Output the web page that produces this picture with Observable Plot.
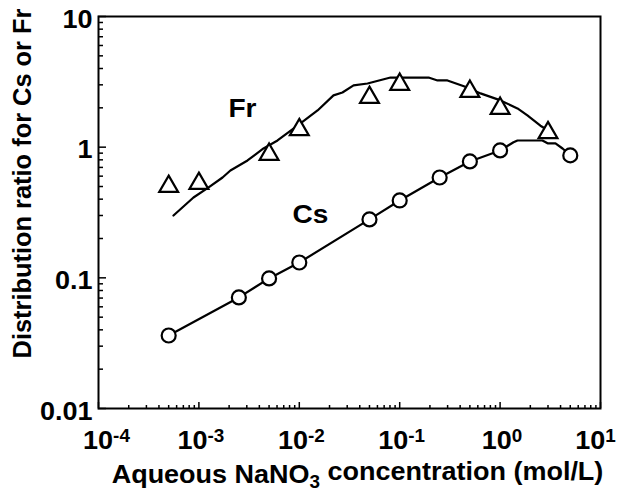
<!DOCTYPE html>
<html><head><meta charset="utf-8">
<script src="https://cdn.jsdelivr.net/npm/d3@7"></script>
<script src="https://cdn.jsdelivr.net/npm/@observablehq/plot@0.6"></script>
<style>body{margin:0;background:#fff}</style>
</head><body><div id="chart"></div>
<script>
// Cs measured points (circles)
const csConc = [5e-4, 2.5e-3, 5e-3, 0.01, 0.05, 0.1, 0.25, 0.5, 1, 5];
const csRatio = [0.0362, 0.0708, 0.099, 0.131, 0.28, 0.391, 0.586, 0.778, 0.944, 0.865];
// Fr measured points (triangles)
const frConc = [5e-4, 1e-3, 5e-3, 0.01, 0.05, 0.1, 0.5, 1, 3];
const frRatio = [0.50, 0.527, 0.88, 1.36, 2.40, 3.02, 2.67, 1.98, 1.29];
// Cs curve
const csLineConc = [5e-4, 2.5e-3, 5e-3, 0.01, 0.05, 0.1, 0.25, 0.5, 1, 1.36, 1.49, 2.64, 2.97, 3.56, 4.19, 5];
const csLineRatio = [0.0362, 0.0708, 0.099, 0.131, 0.28, 0.391, 0.586, 0.778, 0.944, 1.09, 1.125, 1.125, 1.07, 1.07, 0.977, 0.865];
// Fr curve
const frLineConc = [5.58e-4, 8.83e-4, 1.25e-3, 1.72e-3, 2.06e-3, 3.05e-3, 4.40e-3, 6.07e-3, 9.59e-3, 0.0152, 0.0219, 0.0269, 0.0347, 0.0478, 0.081, 0.194, 0.238, 0.299, 0.473, 0.638, 1.01, 1.49, 1.87, 2.52, 3.03];
const frLineRatio = [0.300, 0.412, 0.492, 0.586, 0.663, 0.791, 0.977, 1.125, 1.46, 1.91, 2.49, 2.62, 2.97, 3.07, 3.41, 3.41, 3.24, 3.24, 2.86, 2.58, 2.28, 1.98, 1.75, 1.46, 1.34];
// Series labels
const seriesNames = ["Fr", "Cs"];
const seriesLabelConc = [1.97e-3, 8.55e-3];
const seriesLabelRatio = [1.69, 0.265];
// Ticks
const xMajor = [1e-4, 1e-3, 1e-2, 1e-1, 1, 10];
const xExponents = ["-4", "-3", "-2", "-1", "0", "1"];
const yMajor = [0.01, 0.1, 1, 10];
const yTickLabels = ["0.01", "0.1", "1", "10"];
const minorMultipliers = [2, 3, 4, 5, 6, 7, 8, 9];
const xDecades = [1e-4, 1e-3, 1e-2, 1e-1, 1];
const yDecades = [0.01, 0.1, 1];
const xTitle = "Aqueous NaNO3 concentration (mol/L)";
const yTitle = "Distribution ratio for Cs or Fr";

const xMinor = xDecades.flatMap(d => minorMultipliers.map(m => m * d));
const yMinor = yDecades.flatMap(d => minorMultipliers.map(m => m * d));
const cs = csConc.map((c, i) => ({c, r: csRatio[i]}));
const fr = frConc.map((c, i) => ({c, r: frRatio[i]}));
const csLine = csLineConc.map((c, i) => ({c, r: csLineRatio[i]}));
const frLine = frLineConc.map((c, i) => ({c, r: frLineRatio[i]}));
const seriesLabels = seriesNames.map((n, i) => ({n, c: seriesLabelConc[i], r: seriesLabelRatio[i]}));

const W = 619, H = 491, mT = 16, mR = 19, mB = 83, mL = 98;
const fw = W - mL - mR, fh = H - mT - mB;
const stretch = 1.08;

const svg = Plot.plot({
  width: W, height: H,
  marginTop: mT, marginRight: mR, marginBottom: mB, marginLeft: mL,
  x: {type: "log", domain: [1e-4, 10]},
  y: {type: "log", domain: [0.01, 10]},
  style: {fontFamily: "'Liberation Sans', Arial, Helvetica, sans-serif", fontSize: "25px", fontWeight: "bold", color: "black", background: "white"},
  marks: [
    Plot.tickX(xMinor, {x: d => d, insetTop: fh - 3, strokeWidth: 1.5}),
    Plot.tickX(xMajor, {x: d => d, insetTop: fh - 6, strokeWidth: 1.5}),
    Plot.tickY(yMinor, {y: d => d, insetRight: fw - 5, strokeWidth: 1.5}),
    Plot.tickY(yMajor, {y: d => d, insetRight: fw - 8, strokeWidth: 1.5}),
    Plot.axisX({ticks: xMajor, tickSize: 0, tickPadding: 23, tickFormat: d => "10^" + xExponents[xMajor.indexOf(d)], label: null, dx: 2}),
    Plot.axisY({ticks: yMajor, tickSize: 0, tickPadding: 6, tickFormat: d => yTickLabels[yMajor.indexOf(d)], label: null, dy: 3}),
    Plot.line(frLine, {x: "c", y: "r", stroke: "black", strokeWidth: 2.2}),
    Plot.line(csLine, {x: "c", y: "r", stroke: "black", strokeWidth: 2.2}),
    Plot.dot(cs, {x: "c", y: "r", r: 7, stroke: "black", fill: "white", strokeWidth: 2.2}),
    Plot.dot(fr, {x: "c", y: "r", r: 7, symbol: "triangle", stroke: "black", fill: "white", strokeWidth: 2.2}),
    Plot.text(seriesLabels, {x: "c", y: "r", text: "n", textAnchor: "start", lineAnchor: "bottom", fontSize: 26, fontWeight: "bold", fill: "black"}),
    Plot.text([xTitle], {text: d => d, frameAnchor: "bottom", textAnchor: "middle", lineAnchor: "middle", dy: 66, dx: 8, fontSize: 25, fontWeight: "bold", fill: "black"}),
    Plot.text([yTitle], {text: d => d, frameAnchor: "left", textAnchor: "middle", lineAnchor: "middle", rotate: -90, dx: -76, dy: -29, fontSize: 25.4, fontWeight: "bold", fill: "black"}),
    Plot.frame({stroke: "black", strokeWidth: 2})
  ]
});

const root = d3.select(svg);
// superscript exponents on x tick labels; pull the end labels inward like the reference
const xLabels = root.selectAll('g[aria-label="x-axis tick label"] text').nodes();
xLabels.forEach((node, i) => {
  const t = d3.select(node);
  const parts = t.text().split("^");
  t.text(null);
  t.append("tspan").text(parts[0]);
  t.append("tspan").attr("dy", "-0.42em").attr("font-size", "0.7em").text(parts[1]);
  const shift = i === 0 ? 6 : i === xLabels.length - 1 ? -7 : 0;
  const tr = t.attr("transform") || "";
  t.attr("transform", `${tr} translate(${shift},0) scale(${stretch},1)`);
});
// y tick labels: horizontal stretch
root.selectAll('g[aria-label="y-axis tick label"] text').each(function() {
  const t = d3.select(this);
  t.attr("transform", `${t.attr("transform") || ""} scale(${stretch},1)`);
});
// subscript 3 in NaNO3, stretch horizontal texts
root.selectAll("text").each(function() {
  const t = d3.select(this);
  const s = t.text();
  if (s === xTitle) {
    const k = s.indexOf("NO3") + 2;
    t.text(null);
    t.append("tspan").text(s.slice(0, k));
    t.append("tspan").attr("dy", "0.3em").attr("font-size", "0.7em").text(s.slice(k, k + 1));
    t.append("tspan").attr("dy", "-0.3em").text(s.slice(k + 1));
    t.attr("transform", `${t.attr("transform") || ""} scale(${stretch},1)`);
  } else if (seriesNames.includes(s)) {
    t.attr("transform", `${t.attr("transform") || ""} scale(${stretch},1)`);
  }
});
document.getElementById("chart").appendChild(svg);
</script>
</body></html>
